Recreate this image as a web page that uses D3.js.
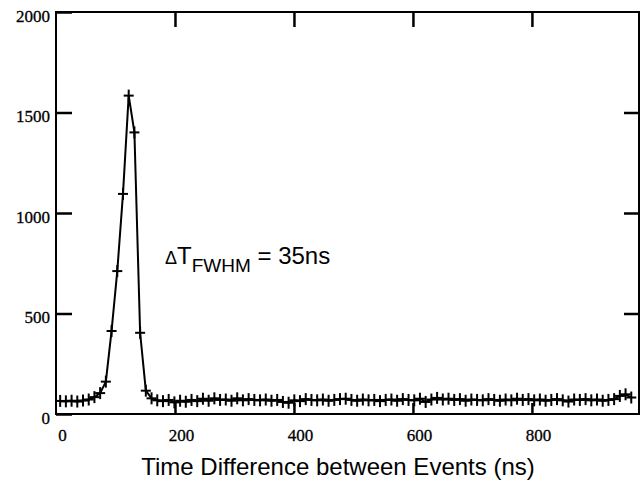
<!DOCTYPE html>
<meta charset="utf-8">
<style>
body { margin: 0; background: #fff; }
.frame { fill: none; stroke: #000; stroke-width: 2; }
.axis path { display: none; }
.axis line { stroke: #000; stroke-width: 2.5; }
.axis text { font-family: "Liberation Serif", "Times New Roman", serif; font-size: 17px; fill: #000; stroke: #000; stroke-width: 0.3; }
.trace { fill: none; stroke: #000; stroke-width: 2; }
.mark { stroke: #000; stroke-width: 2; }
</style>
<body>
<script src="https://d3js.org/d3.v7.min.js"></script>
<script>
// histogram bins: first bin centre and bin width (ns)
var binStart = 7, binWidth = 9.6;

// counts per bin
var counts = [
  65, 63, 66, 62, 67, 72, 84, 104, 161, 413,
  711, 1095, 1584, 1401, 404, 116, 78, 68, 64, 70,
  58, 66, 61, 70, 64, 76, 66, 78, 70, 72,
  66, 78, 68, 74, 70, 68, 72, 66, 70, 60,
  56, 68, 64, 74, 70, 68, 72, 66, 70, 74,
  76, 70, 66, 72, 68, 70, 64, 70, 72, 66,
  74, 70, 68, 76, 60, 72, 80, 72, 76, 70,
  74, 66, 72, 70, 68, 74, 70, 66, 72, 68,
  76, 70, 74, 68, 72, 66, 70, 74, 68, 62,
  72, 70, 74, 68, 72, 66, 70, 74, 90, 98,
  82
];

var xTicks = [0, 200, 400, 600, 800];
var yTicks = [0, 500, 1000, 1500, 2000];
var xTitle = "Time Difference between Events (ns)";

var w = 640, h = 481;
var margin = {top: 12, right: 1, bottom: 67, left: 56},
    width = w - margin.left - margin.right,
    height = h - margin.top - margin.bottom;

var svg = d3.select("body").append("svg").attr("width", w).attr("height", h);
var g = svg.append("g").attr("transform", "translate(" + margin.left + "," + margin.top + ")");

var x = d3.scaleLinear().domain([0, 980]).range([0, width]),
    y = d3.scaleLinear().domain([0, 2000]).range([height, 0]);

var data = counts.map(function(c, i) { return {t: binStart + binWidth * i, n: c}; });
var fmt = d3.format("d");

// axes, ticks pointing inward
g.append("g")
    .attr("class", "axis")
    .call(d3.axisLeft(y).tickValues(yTicks).tickSize(-16).tickPadding(6).tickFormat(fmt))
  .selectAll("text").attr("dy", "0.55em").attr("y", 0);

g.append("g")
    .attr("class", "axis")
    .attr("transform", "translate(" + width + ",0)")
    .call(d3.axisRight(y).tickValues(yTicks.slice(1, 4)).tickSize(-15).tickFormat(""));

g.append("g")
    .attr("class", "axis")
    .call(d3.axisTop(x).tickValues(xTicks.slice(1)).tickSize(-15).tickFormat(""));

var xAxis = g.append("g")
    .attr("class", "axis")
    .attr("transform", "translate(0," + height + ")")
    .call(d3.axisBottom(x).tickValues(xTicks).tickSize(-11).tickPadding(15).tickFormat(fmt));
xAxis.selectAll("line").filter(function(d) { return d === 0; }).remove();
xAxis.selectAll("text").attr("dx", 6);

g.append("rect")
    .attr("class", "frame")
    .attr("width", width)
    .attr("height", height);

// data line and + markers
g.append("path")
    .datum(data)
    .attr("class", "trace")
    .attr("d", d3.line()
      .x(function(d) { return x(d.t); })
      .y(function(d) { return y(d.n); }));

var m = g.selectAll(".pt")
    .data(data)
  .enter().append("g")
    .attr("class", "pt")
    .attr("transform", function(d) { return "translate(" + x(d.t) + "," + y(d.n) + ")"; });
m.append("line").attr("class", "mark").attr("x1", -5).attr("x2", 5);
m.append("line").attr("class", "mark").attr("y1", -6).attr("y2", 6);

// annotation
var ann = svg.append("text")
    .attr("x", 165)
    .attr("y", 264)
    .style("font-family", "'Liberation Sans', Arial, sans-serif")
    .style("font-size", "24px");
ann.append("tspan").style("font-size", "18px").text("\u0394");
ann.append("tspan").text("T");
ann.append("tspan").attr("dy", 8).style("font-size", "19px").text("FWHM");
ann.append("tspan").attr("dy", -8).text(" = 35ns");

svg.append("text")
    .attr("x", 338)
    .attr("y", 475)
    .attr("text-anchor", "middle")
    .style("font-family", "'Liberation Sans', Arial, sans-serif")
    .style("font-size", "24px")
    .text(xTitle);
</script>
</body>
